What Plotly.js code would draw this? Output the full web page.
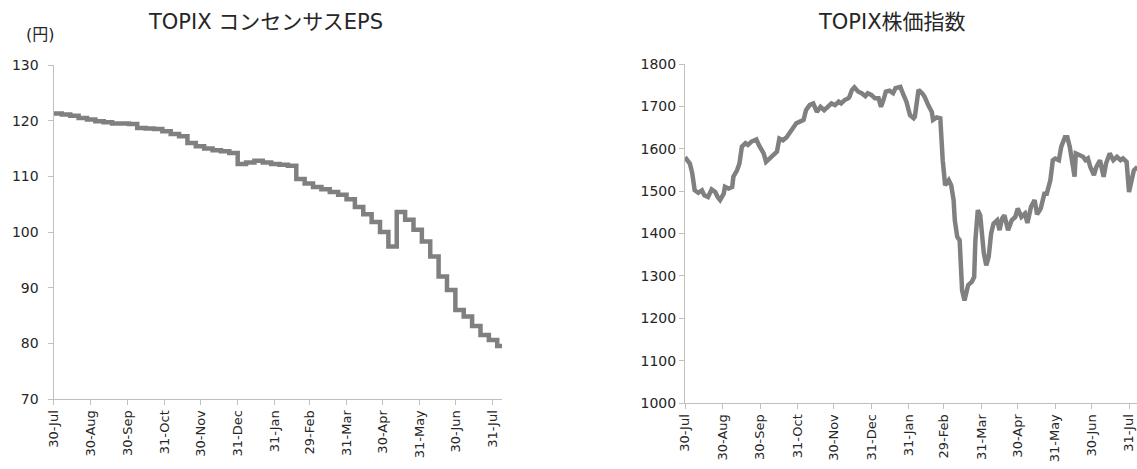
<!DOCTYPE html>
<html>
<head>
<meta charset="utf-8">
<script src="https://cdn.plot.ly/plotly-3.0.1.min.js"></script>
<style>
  html, body { margin: 0; padding: 0; background: #ffffff; }
  #chart { width: 1137px; height: 469px; }
</style>
</head>
<body>
<div id="chart"></div>
<script>
// TOPIX consensus EPS (yen), weekly readings
const epsDates = [
  '2019-07-30','2019-08-06','2019-08-13','2019-08-20','2019-08-27','2019-09-03','2019-09-10',
  '2019-09-17','2019-09-24','2019-10-01','2019-10-08','2019-10-15','2019-10-22','2019-10-29',
  '2019-11-05','2019-11-12','2019-11-19','2019-11-26','2019-12-03','2019-12-10','2019-12-17',
  '2019-12-24','2019-12-31','2020-01-07','2020-01-14','2020-01-21','2020-01-28','2020-02-04',
  '2020-02-11','2020-02-18','2020-02-25','2020-03-03','2020-03-10','2020-03-17','2020-03-24',
  '2020-03-31','2020-04-07','2020-04-14','2020-04-21','2020-04-28','2020-05-05','2020-05-12',
  '2020-05-19','2020-05-26','2020-06-02','2020-06-09','2020-06-16','2020-06-23','2020-06-30',
  '2020-07-07','2020-07-14','2020-07-21','2020-07-28','2020-08-04','2020-08-08'
];
const epsValues = [
  121.3, 121.1, 120.9, 120.5, 120.2, 119.9, 119.7,
  119.5, 119.5, 119.4, 118.7, 118.6, 118.5, 118.1,
  117.6, 117.2, 116.0, 115.4, 115.0, 114.7, 114.5,
  114.2, 112.2, 112.5, 112.8, 112.5, 112.2, 112.1,
  111.9, 109.5, 108.7, 108.1, 107.7, 107.2, 106.7,
  105.9, 104.5, 103.2, 101.8, 100.0, 97.4, 103.6,
  102.2, 100.4, 98.3, 95.6, 92.0, 89.6, 86.0,
  84.8, 83.1, 81.5, 80.6, 79.5, 79.5
];

// TOPIX index level
const topixDates = [
  '2019-07-30','2019-07-31','2019-08-03','2019-08-05','2019-08-06','2019-08-07','2019-08-10',
  '2019-08-13','2019-08-15','2019-08-18','2019-08-21','2019-08-24','2019-08-26','2019-08-28',
  '2019-08-31','2019-09-01','2019-09-04','2019-09-07','2019-09-08','2019-09-11','2019-09-13',
  '2019-09-15','2019-09-18','2019-09-20','2019-09-23','2019-09-27','2019-09-29','2019-10-01',
  '2019-10-03','2019-10-05','2019-10-08','2019-10-11','2019-10-14','2019-10-16','2019-10-19',
  '2019-10-22','2019-10-25','2019-10-27','2019-10-30','2019-11-02','2019-11-05','2019-11-07',
  '2019-11-10','2019-11-13','2019-11-16','2019-11-19','2019-11-22','2019-11-25','2019-11-28',
  '2019-12-01','2019-12-04','2019-12-06','2019-12-09','2019-12-12','2019-12-13','2019-12-15',
  '2019-12-17','2019-12-20','2019-12-23','2019-12-26','2019-12-28','2019-12-31','2020-01-03',
  '2020-01-06','2020-01-08','2020-01-10','2020-01-12','2020-01-15','2020-01-18','2020-01-20',
  '2020-01-24','2020-01-26','2020-01-29','2020-02-01','2020-02-04','2020-02-05','2020-02-08',
  '2020-02-11','2020-02-13','2020-02-16','2020-02-19','2020-02-20','2020-02-23','2020-02-26',
  '2020-02-27','2020-02-28','2020-03-01','2020-03-04','2020-03-06','2020-03-08','2020-03-09',
  '2020-03-11','2020-03-13','2020-03-14','2020-03-15','2020-03-17','2020-03-18','2020-03-20',
  '2020-03-23','2020-03-25','2020-03-26','2020-03-28','2020-03-30','2020-03-31','2020-04-02',
  '2020-04-04','2020-04-06','2020-04-08','2020-04-10','2020-04-13','2020-04-15','2020-04-17',
  '2020-04-19','2020-04-22','2020-04-25','2020-04-28','2020-04-30','2020-05-03','2020-05-06',
  '2020-05-08','2020-05-11','2020-05-14','2020-05-16','2020-05-19','2020-05-22','2020-05-24',
  '2020-05-27','2020-05-29','2020-05-31','2020-06-03','2020-06-05','2020-06-08','2020-06-10',
  '2020-06-12','2020-06-14','2020-06-16','2020-06-17','2020-06-20','2020-06-23','2020-06-25',
  '2020-06-27','2020-06-29','2020-07-02','2020-07-04','2020-07-07','2020-07-10','2020-07-12',
  '2020-07-15','2020-07-18','2020-07-21','2020-07-24','2020-07-26','2020-07-29','2020-07-31',
  '2020-08-02','2020-08-04','2020-08-07'
];
const topixValues = [
  1580, 1577, 1565, 1542, 1518, 1502, 1496,
  1502, 1490, 1486, 1504, 1498, 1486, 1479,
  1494, 1510, 1506, 1510, 1534, 1549, 1565,
  1605, 1613, 1609, 1617, 1622, 1609, 1601,
  1589, 1569, 1577, 1585, 1593, 1624, 1620,
  1627, 1640, 1648, 1660, 1664, 1668, 1691,
  1703, 1707, 1687, 1699, 1691, 1699, 1707,
  1703, 1711, 1707, 1715, 1719, 1723, 1739,
  1745, 1735, 1731, 1724, 1731, 1727, 1719,
  1719, 1699, 1715, 1735, 1737, 1731, 1743,
  1746, 1731, 1711, 1679, 1672, 1676, 1739,
  1731, 1723, 1703, 1687, 1668, 1674, 1672,
  1613, 1573, 1514, 1526, 1514, 1479, 1431,
  1392, 1384, 1321, 1266, 1242, 1258, 1278,
  1286, 1297, 1384, 1455, 1443, 1415, 1353,
  1325, 1345, 1400, 1423, 1431, 1408, 1435,
  1443, 1408, 1431, 1439, 1459, 1439, 1447,
  1425, 1463, 1479, 1445, 1459, 1494, 1494,
  1526, 1573, 1577, 1573, 1605, 1627, 1627,
  1605, 1565, 1534, 1589, 1585, 1581, 1573,
  1577, 1557, 1538, 1557, 1573, 1534, 1565,
  1589, 1573, 1581, 1573, 1577, 1569, 1498,
  1526, 1549, 1557
];

// Shared date ticks
const tickDates = [
  '2019-07-30','2019-08-30','2019-09-30','2019-10-31','2019-11-30','2019-12-31',
  '2020-01-31','2020-02-29','2020-03-31','2020-04-30','2020-05-31','2020-06-30','2020-07-31'
];
const tickLabels = [
  '30-Jul','30-Aug','30-Sep','31-Oct','30-Nov','31-Dec',
  '31-Jan','29-Feb','31-Mar','30-Apr','31-May','30-Jun','31-Jul'
];

const leftTitle = 'TOPIX コンセンサスEPS';
const rightTitle = 'TOPIX株価指数';
const unitLabel = '(円)';

const FONT = 'DejaVu Sans, "Noto Sans CJK JP", sans-serif';
const LINE_COLOR = '#808080';
const AXIS_COLOR = '#c0c0c0';
const TEXT_COLOR = '#262626';
const W = 1137, H = 469;

// pixel box helpers -> paper fractions
const dx = (a, b) => [a / W, b / W];
const dy = (top, bottom) => [(H - bottom) / H, (H - top) / H];

const xCommon = {
  type: 'date',
  tickmode: 'array',
  tickvals: tickDates,
  ticktext: tickLabels,
  tickangle: -90,
  ticks: 'outside',
  ticklen: 5,
  tickcolor: AXIS_COLOR,
  showline: true,
  linecolor: AXIS_COLOR,
  linewidth: 1,
  showgrid: false,
  zeroline: false,
  tickfont: { family: FONT, size: 13, color: TEXT_COLOR },
  fixedrange: true
};
const yCommon = {
  ticks: 'outside',
  ticklen: 5,
  tickcolor: AXIS_COLOR,
  showline: true,
  linecolor: AXIS_COLOR,
  linewidth: 1,
  showgrid: false,
  zeroline: false,
  tickfont: { family: FONT, size: 14, color: TEXT_COLOR },
  fixedrange: true
};

const traces = [
  {
    x: epsDates, y: epsValues, xaxis: 'x', yaxis: 'y',
    type: 'scatter', mode: 'lines',
    line: { color: LINE_COLOR, width: 4.5, shape: 'hv' },
    hoverinfo: 'skip'
  },
  {
    x: topixDates, y: topixValues, xaxis: 'x2', yaxis: 'y2',
    type: 'scatter', mode: 'lines',
    line: { color: LINE_COLOR, width: 4.5 },
    hoverinfo: 'skip'
  }
];

const layout = {
  width: W, height: H,
  margin: { l: 0, r: 0, t: 0, b: 0 },
  paper_bgcolor: '#ffffff',
  plot_bgcolor: '#ffffff',
  showlegend: false,
  xaxis: Object.assign({}, xCommon, {
    domain: dx(53.5, 502),
    range: ['2019-07-30', '2020-08-08'],
    anchor: 'y'
  }),
  yaxis: Object.assign({}, yCommon, {
    domain: dy(65, 399),
    range: [70, 130],
    dtick: 10,
    tick0: 70,
    ticklabelstandoff: 6,
    anchor: 'x'
  }),
  xaxis2: Object.assign({}, xCommon, {
    domain: dx(685, 1137),
    range: ['2019-07-30', '2020-08-06 14:00'],
    anchor: 'y2'
  }),
  yaxis2: Object.assign({}, yCommon, {
    domain: dy(64, 403),
    range: [1000, 1800],
    dtick: 100,
    tick0: 1000,
    ticklabelstandoff: 0,
    anchor: 'x2'
  }),
  annotations: [
    {
      text: leftTitle, xref: 'paper', yref: 'paper',
      x: 265 / W, y: (H - 22) / H, xanchor: 'center', yanchor: 'middle',
      showarrow: false, font: { family: FONT, size: 21, color: TEXT_COLOR }
    },
    {
      text: rightTitle, xref: 'paper', yref: 'paper',
      x: 892 / W, y: (H - 22) / H, xanchor: 'center', yanchor: 'middle',
      showarrow: false, font: { family: FONT, size: 21, color: TEXT_COLOR }
    },
    {
      text: unitLabel, xref: 'paper', yref: 'paper',
      x: 40 / W, y: (H - 34) / H, xanchor: 'center', yanchor: 'middle',
      showarrow: false, font: { family: FONT, size: 16, color: TEXT_COLOR }
    }
  ]
};

Plotly.newPlot('chart', traces, layout, { staticPlot: true, displayModeBar: false });
</script>
</body>
</html>
